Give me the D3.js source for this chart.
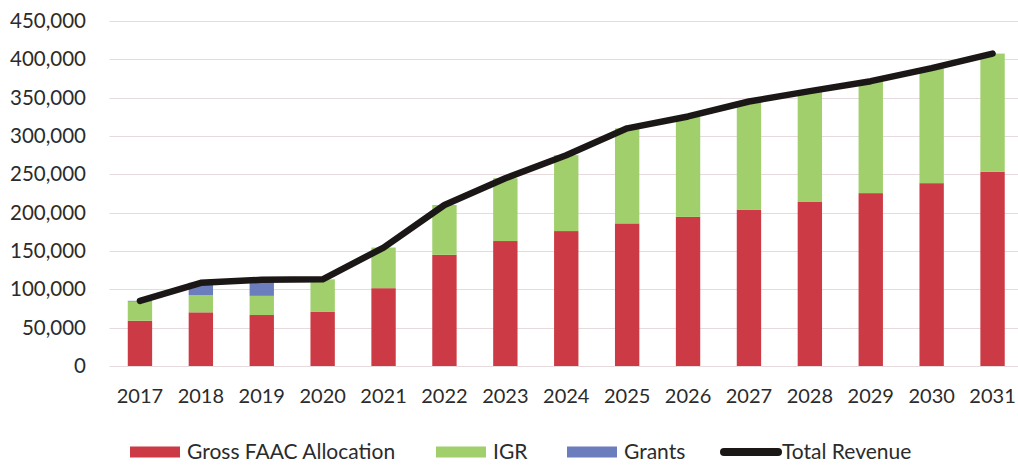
<!DOCTYPE html>
<html>
<head>
<meta charset="utf-8">
<script src="https://cdn.jsdelivr.net/npm/d3@7"></script>
<style>
  html, body { margin: 0; padding: 0; background: #ffffff; }
  svg { display: block; }
  text { font-family: Lato, "Open Sans", sans-serif; fill: #2b2b2b; }
</style>
</head>
<body>
<svg id="chart" width="1018" height="465"></svg>
<script>
// Revenue projections, 2017–2031
const years  = ["2017","2018","2019","2020","2021","2022","2023","2024","2025","2026","2027","2028","2029","2030","2031"];
const faac   = [59000, 70000, 66500, 71000, 101500, 145000, 163000, 176000, 186000, 194500, 204000, 214500, 225500, 238500, 253500];
const igr    = [25000, 22500, 25000, 42000, 53000, 65000, 82000, 99000, 124000, 131000, 141000, 144000, 146000, 150000, 154000];
const grants = [1000, 16000, 21000, 0, 0, 0, 0, 0, 0, 0, 0, 0, 0, 0, 0];
const yTicks = [0, 50000, 100000, 150000, 200000, 250000, 300000, 350000, 400000, 450000];

const seriesNames  = ["Gross FAAC Allocation", "IGR", "Grants"];
const seriesColors = ["#cc3b45", "#a0cf6c", "#6b7dbd"];
const lineName = "Total Revenue";

const rows = years.map((y, i) => ({
  year: y,
  "Gross FAAC Allocation": faac[i],
  "IGR": igr[i],
  "Grants": grants[i]
}));
const totals = years.map((y, i) => ({ year: y, value: faac[i] + igr[i] + grants[i] }));

const svg = d3.select("#chart");
const plot = { left: 109.5, right: 1023, top: 21, bottom: 366 };

const x = d3.scaleBand()
  .domain(years)
  .range([plot.left, plot.right])
  .paddingInner(0.6)
  .paddingOuter(0.3);

const y = d3.scaleLinear()
  .domain([0, 450000])
  .range([plot.bottom, plot.top]);

// horizontal gridlines
svg.append("g")
  .selectAll("line")
  .data(yTicks)
  .join("line")
  .attr("x1", plot.left)
  .attr("x2", 1018)
  .attr("y1", d => Math.round(y(d)) + 0.5)
  .attr("y2", d => Math.round(y(d)) + 0.5)
  .attr("stroke", "#e6dadd")
  .attr("stroke-width", 1);

// y axis labels
const yAxis = d3.axisLeft(y)
  .tickValues(yTicks)
  .tickFormat(d3.format(","))
  .tickSize(0)
  .tickPadding(0);
const gy = svg.append("g")
  .attr("transform", `translate(86,0)`)
  .call(yAxis);
gy.select(".domain").remove();
gy.selectAll("text")
  .style("font-size", "20.5px")
  .attr("fill", "#2b2b2b");

// x axis labels
const xAxis = d3.axisBottom(x).tickSize(0).tickPadding(0);
const gx = svg.append("g")
  .attr("transform", `translate(0,389)`)
  .call(xAxis);
gx.select(".domain").remove();
gx.selectAll("text")
  .style("font-size", "20px")
  .attr("fill", "#2b2b2b");

// stacked bars
const stack = d3.stack().keys(seriesNames)(rows);
svg.append("g")
  .selectAll("g")
  .data(stack)
  .join("g")
  .attr("fill", (d, i) => seriesColors[i])
  .selectAll("rect")
  .data(d => d)
  .join("rect")
  .attr("x", d => x(d.data.year))
  .attr("width", x.bandwidth())
  .attr("y", d => y(d[1]))
  .attr("height", d => y(d[0]) - y(d[1]));

// total revenue line
const line = d3.line()
  .x(d => x(d.year) + x.bandwidth() / 2)
  .y(d => y(d.value));
svg.append("path")
  .datum(totals)
  .attr("d", line)
  .attr("fill", "none")
  .attr("stroke", "#1b1716")
  .attr("stroke-width", 6.5)
  .attr("stroke-linejoin", "round")
  .attr("stroke-linecap", "round");

// legend
const legendY = 452;
const legendItems = [
  { name: seriesNames[0], color: seriesColors[0], x: 130, type: "rect" },
  { name: seriesNames[1], color: seriesColors[1], x: 436, type: "rect" },
  { name: seriesNames[2], color: seriesColors[2], x: 567, type: "rect" },
  { name: lineName, color: "#1b1716", x: 720, type: "line" }
];
const lg = svg.append("g");
legendItems.forEach(item => {
  const g = lg.append("g").attr("transform", `translate(${item.x},${legendY})`);
  if (item.type === "rect") {
    g.append("rect")
      .attr("x", 0).attr("y", -5.5)
      .attr("width", 50).attr("height", 11)
      .attr("fill", item.color);
    g.append("text")
      .attr("x", 57).attr("y", 0)
      .attr("dy", "0.35em")
      .style("font-size", "21px")
      .text(item.name);
  } else {
    g.append("line")
      .attr("x1", 4).attr("x2", 58)
      .attr("y1", 0).attr("y2", 0)
      .attr("stroke", item.color)
      .attr("stroke-width", 8)
      .attr("stroke-linecap", "round");
    g.append("text")
      .attr("x", 62).attr("y", 0)
      .attr("dy", "0.35em")
      .style("font-size", "21px")
      .text(item.name);
  }
});
</script>
</body>
</html>
